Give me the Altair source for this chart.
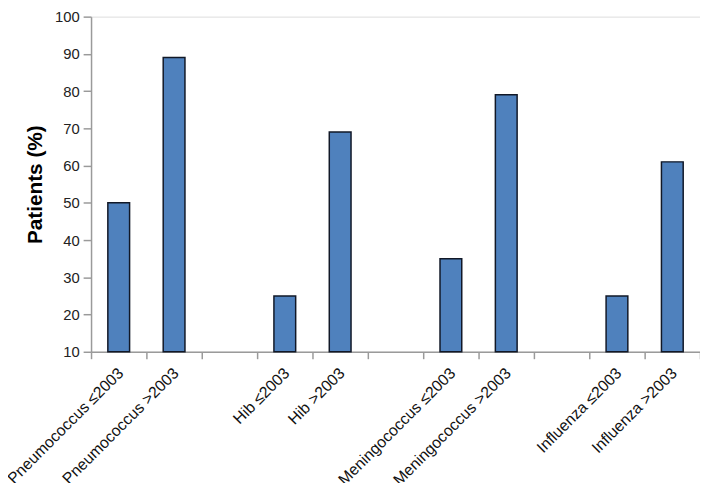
import altair as alt
import pandas as pd

# Categories in display order (blank slots are spacer columns between groups)
categories = [
    "Pneumococcus ≤2003", "Pneumococcus >2003", " ",
    "Hib ≤2003", "Hib >2003", "  ",
    "Meningococcus ≤2003", "Meningococcus >2003", "   ",
    "Influenza ≤2003", "Influenza >2003",
]
bar_labels = [
    "Pneumococcus ≤2003", "Pneumococcus >2003",
    "Hib ≤2003", "Hib >2003",
    "Meningococcus ≤2003", "Meningococcus >2003",
    "Influenza ≤2003", "Influenza >2003",
]
bar_values = [50, 89, 25, 69, 35, 79, 25, 61]
y_ticks = [10, 20, 30, 40, 50, 60, 70, 80, 90, 100]

df = pd.DataFrame({"group": bar_labels, "pct": bar_values})

FONT = "Liberation Sans"

chart = alt.Chart(df).mark_bar(
    color="#4F81BD", stroke="#111827", strokeWidth=1.5, size=22
).encode(
    x=alt.X(
        "group:N",
        scale=alt.Scale(domain=categories, paddingInner=0, paddingOuter=0),
        sort=categories,
        axis=alt.Axis(
            title=None,
            labelAngle=-45,
            labelFontSize=16,
            labelFont=FONT,
            labelColor="#111111",
            labelPadding=6,
            labelOffset=-4,
            tickBand="extent",
            tickSize=7,
            tickColor="#9a9a9a",
            domainColor="#9a9a9a",
            domainWidth=1.5,
            tickWidth=1.5,
            labelLimit=300,
        ),
    ),
    y=alt.Y(
        "pct:Q",
        scale=alt.Scale(domain=[10, 100], zero=False, nice=False),
        axis=alt.Axis(
            title="Patients (%)",
            titleFont=FONT,
            titleFontSize=21,
            titleFontWeight="bold",
            titleColor="#000000",
            titlePadding=9,
            values=y_ticks,
            labelFontSize=15,
            labelFont=FONT,
            labelColor="#222222",
            labelPadding=4,
            tickSize=8,
            tickColor="#9a9a9a",
            domainColor="#9a9a9a",
            domainWidth=1.5,
            tickWidth=1.5,
            grid=False,
        ),
    ),
    y2=alt.datum(10),
).properties(
    width=616,
    height=339,
    autosize=alt.AutoSizeParams(type="none"),
    padding={"left": 84, "top": 6, "right": 0, "bottom": 130},
).configure_view(stroke=None).configure(background="white")

chart.save("out.html", embed_options={"renderer": "svg", "actions": False})
